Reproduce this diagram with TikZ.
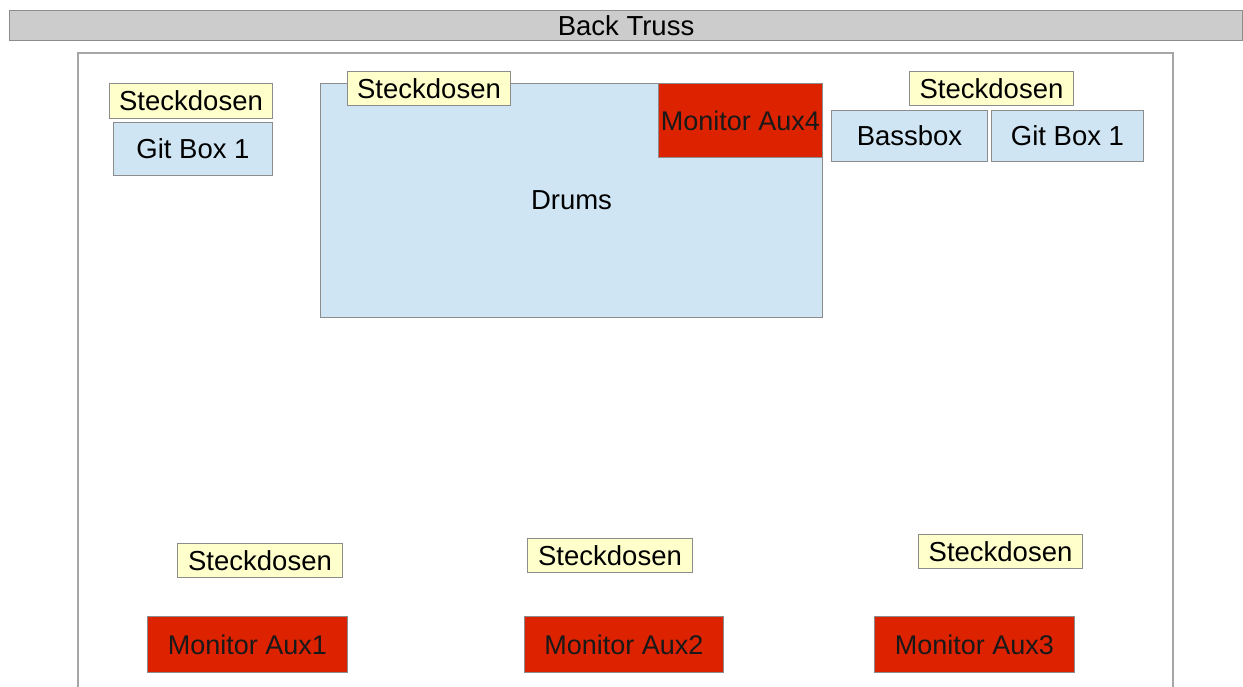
\documentclass[tikz,border=0pt]{standalone}
\usepackage{fontspec}
\setmainfont{Liberation Sans}
\definecolor{trussgray}{HTML}{CCCCCC}
\definecolor{edgegray}{HTML}{8C8C8C}
\definecolor{stagegray}{HTML}{A6A6A6}
\definecolor{boxblue}{HTML}{CFE5F3}
\definecolor{plugyellow}{HTML}{FFFFCC}
\definecolor{monred}{HTML}{DD2200}
\tikzset{
  box/.style={draw=edgegray, line width=1pt, inner sep=0pt, anchor=north west,
    font=\fontsize{27.5}{32}\selectfont, text=black},
  plug/.style={box, fill=plugyellow},
  instr/.style={box, fill=boxblue},
  monitor/.style={box, fill=monred, text=black!90, font=\fontsize{27}{32}\selectfont},
}
\begin{document}
\begin{tikzpicture}[x=1pt,y=-1pt]
\useasboundingbox[fill=white] (0,0) rectangle (1243,687);
% back truss
\node[box, fill=trussgray, minimum width=1233pt, minimum height=30pt] (truss) at (9,10) {Back Truss};
% stage outline (open at bottom)
\coordinate (s1) at (78,690);
\coordinate (s2) at (78,53);
\coordinate (s3) at (1173,53);
\coordinate (s4) at (1173,690);
\draw[stagegray, line width=1.2pt] (s1) -- (s2) -- (s3) -- (s4);
% left group
\node[plug, minimum width=163pt, minimum height=35pt] (sd1) at (109,83) {Steckdosen};
\node[instr, minimum width=159pt, minimum height=53pt] (git1) at (113,122) {Git Box 1};
% drums
\node[instr, minimum width=502pt, minimum height=234pt] (drums) at (320,83) {Drums};
\node[monitor, minimum width=164pt, minimum height=74pt] (aux4) at (658,83) {Monitor Aux4};
\node[plug, minimum width=163pt, minimum height=34pt] (sd2) at (347,71) {Steckdosen};
% right group
\node[plug, minimum width=164pt, minimum height=34pt] (sd3) at (909,71) {Steckdosen};
\node[instr, minimum width=156pt, minimum height=51pt] (bass) at (831,110) {Bassbox};
\node[instr, minimum width=152pt, minimum height=51pt] (git2) at (991,110) {Git Box 1};
% front
\node[plug, minimum width=165pt, minimum height=34pt] (sd4) at (177,543) {Steckdosen};
\node[plug, minimum width=165pt, minimum height=34pt] (sd5) at (527,538) {Steckdosen};
\node[plug, minimum width=164pt, minimum height=34pt] (sd6) at (918,534) {Steckdosen};
\node[monitor, minimum width=200pt, minimum height=56pt] (aux1) at (147,616) {Monitor Aux1};
\node[monitor, minimum width=199pt, minimum height=56pt] (aux2) at (524,616) {Monitor Aux2};
\node[monitor, minimum width=200pt, minimum height=56pt] (aux3) at (874,616) {Monitor Aux3};
\end{tikzpicture}
\end{document}
